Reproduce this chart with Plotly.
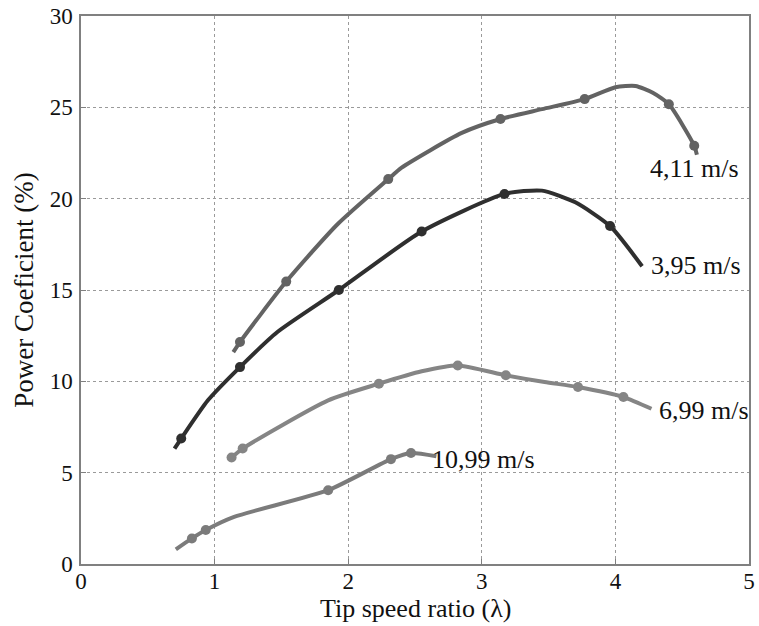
import plotly.graph_objects as go

# ---- data ----
# 4,11 m/s
tsr_411_line = [1.14, 1.19, 1.536, 1.92, 2.30, 2.40, 2.85, 3.14, 3.45, 3.77, 4.00, 4.15, 4.28, 4.40, 4.59, 4.61]
cp_411_line  = [11.6, 12.15, 15.46, 18.6, 21.07, 21.7, 23.6, 24.36, 24.9, 25.45, 26.1, 26.17, 25.8, 25.17, 22.9, 22.4]
tsr_411_mk = [1.19, 1.536, 2.30, 3.14, 3.77, 4.40, 4.59]
cp_411_mk  = [12.15, 15.46, 21.07, 24.36, 25.45, 25.17, 22.9]

# 3,95 m/s
tsr_395_line = [0.70, 0.75, 0.95, 1.19, 1.47, 1.93, 2.55, 3.17, 3.45, 3.70, 3.96, 4.20]
cp_395_line  = [6.32, 6.87, 8.96, 10.78, 12.7, 15.0, 18.2, 20.26, 20.44, 19.8, 18.5, 16.3]
tsr_395_mk = [0.75, 1.19, 1.93, 2.55, 3.17, 3.96]
cp_395_mk  = [6.87, 10.78, 15.0, 18.2, 20.26, 18.5]

# 6,99 m/s
tsr_699_line = [1.127, 1.21, 1.85, 2.23, 2.55, 2.82, 3.18, 3.47, 3.72, 4.06, 4.27]
cp_699_line  = [5.83, 6.32, 8.96, 9.87, 10.55, 10.87, 10.33, 9.96, 9.69, 9.14, 8.5]
tsr_699_mk = [1.127, 1.21, 2.23, 2.82, 3.18, 3.72, 4.06]
cp_699_mk  = [5.83, 6.32, 9.87, 10.87, 10.33, 9.69, 9.14]

# 10,99 m/s
tsr_1099_line = [0.71, 0.83, 0.934, 1.146, 1.85, 2.32, 2.47, 2.66]
cp_1099_line  = [0.80, 1.40, 1.86, 2.58, 4.04, 5.74, 6.08, 5.9]
tsr_1099_mk = [0.83, 0.934, 1.85, 2.32, 2.47]
cp_1099_mk  = [1.40, 1.86, 4.04, 5.74, 6.08]

# label annotations (text, x, y)
labels = ["4,11 m/s", "3,95 m/s", "6,99 m/s", "10,99 m/s"]
label_x = [4.245, 4.255, 4.31, 2.615]
label_y = [21.65, 16.34, 8.40, 5.70]

x_ticks = [0, 1, 2, 3, 4, 5]
y_ticks = [0, 5, 10, 15, 20, 25, 30]

series = [
    (tsr_411_line, cp_411_line, tsr_411_mk, cp_411_mk, "#636363"),
    (tsr_395_line, cp_395_line, tsr_395_mk, cp_395_mk, "#2f2f2f"),
    (tsr_699_line, cp_699_line, tsr_699_mk, cp_699_mk, "#858585"),
    (tsr_1099_line, cp_1099_line, tsr_1099_mk, cp_1099_mk, "#7b7b7b"),
]

fig = go.Figure()
for lx, ly, mx, my, col in series:
    fig.add_trace(go.Scatter(x=lx, y=ly, mode="lines",
                             line=dict(color=col, width=4, shape="spline", smoothing=0.6),
                             showlegend=False, hoverinfo="skip"))
    fig.add_trace(go.Scatter(x=mx, y=my, mode="markers",
                             marker=dict(color=col, size=10),
                             showlegend=False))

font_family = "Liberation Serif, Times New Roman, serif"
for t, x, y in zip(labels, label_x, label_y):
    fig.add_annotation(x=x, y=y, text=t, showarrow=False, xanchor="left", yanchor="middle",
                       font=dict(family=font_family, size=26, color="#111"))

# x-axis title placed as a paper annotation so it can sit close to the tick labels
fig.add_annotation(x=0.5, y=0, xref="paper", yref="paper", text="Tip speed ratio (λ)",
                   showarrow=False, xanchor="center", yanchor="middle", yshift=-44,
                   font=dict(family=font_family, size=26, color="#111"))

axis_common = dict(
    showline=True, linecolor="#808080", linewidth=1.5, mirror=True,
    showgrid=True, gridcolor="#9a9a9a", griddash="dot", gridwidth=1,
    ticks="inside", ticklen=5, tickcolor="#808080",
    tickfont=dict(family=font_family, size=23, color="#111"),
    ticklabeloverflow="allow", automargin=False,
    zeroline=False,
)

fig.update_layout(
    width=759, height=626,
    margin=dict(l=81, r=10, t=16, b=62),
    paper_bgcolor="white", plot_bgcolor="white",
    xaxis=dict(range=[0, 5], tickvals=x_ticks, ticklabelstandoff=-4, **axis_common),
    yaxis=dict(range=[0, 30], tickvals=y_ticks, ticklabelstandoff=2,
               title=dict(text="Power Coeficient (%)", standoff=8,
               font=dict(family=font_family, size=27, color="#111")), **axis_common),
)

# remove the page's default body margin so the figure fills the window exactly
post = "document.body.style.margin='0';document.body.style.overflow='hidden';"
fig.write_html("out.html", post_script=post, config={"displayModeBar": False})
